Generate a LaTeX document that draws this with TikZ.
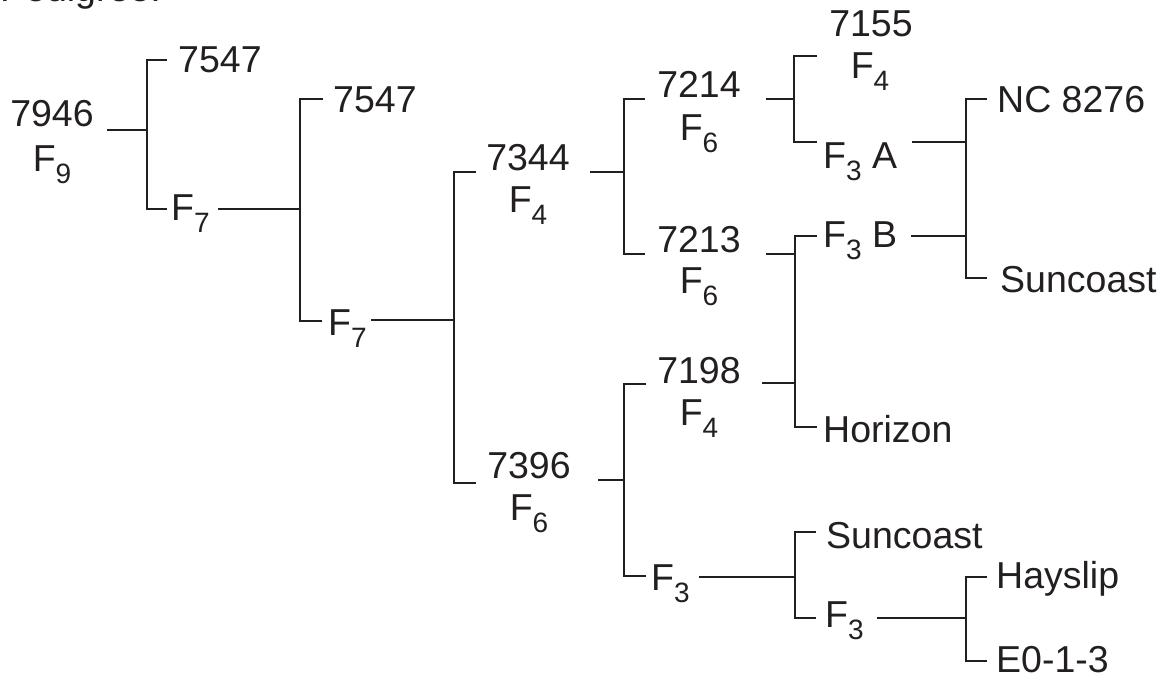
\documentclass[tikz,border=0pt]{standalone}
\usepackage{fontspec}
\setmainfont{Liberation Sans}
\definecolor{ink}{HTML}{231F20}
\newcommand\Fsub[1]{F\raisebox{-12pt}{\fontsize{28}{28}\selectfont #1}}
\begin{document}
\begin{tikzpicture}[x=1pt,y=-1pt,
  txt/.style={inner sep=0pt, anchor=base west, font=\fontsize{37.5}{40}\selectfont, text=ink},
  ctxt/.style={txt, anchor=base},
  link/.style={draw=ink, line width=2.4pt}]
\useasboundingbox (0,0) rectangle (1165,677);
% texts
\node[txt] (ped) at (0,2) {Pedigree:};
\node[ctxt] (n7946) at (52,126) {7946};
\node[ctxt] (f7946) at (52,171) {\Fsub{9}};
\node[txt] (n7547a) at (178,73) {7547};
\node[txt] (f7a) at (171,220) {\Fsub{7}};
\node[txt] (n7547b) at (333,112) {7547};
\node[txt] (f7b) at (328,335) {\Fsub{7}};
\node[ctxt] (n7344) at (528,170) {7344};
\node[ctxt] (f7344) at (528,212) {\Fsub{4}};
\node[ctxt] (n7396) at (529,478) {7396};
\node[ctxt] (f7396) at (529,520) {\Fsub{6}};
\node[ctxt] (n7214) at (699,98) {7214};
\node[ctxt] (f7214) at (699,140) {\Fsub{6}};
\node[ctxt] (n7213) at (699,252) {7213};
\node[ctxt] (f7213) at (699,293) {\Fsub{6}};
\node[ctxt] (n7198) at (699,383) {7198};
\node[ctxt] (f7198) at (699,425) {\Fsub{4}};
\node[txt] (f3c) at (651,590) {\Fsub{3}};
\node[ctxt] (n7155) at (871,37) {7155};
\node[ctxt] (f7155) at (870,79) {\Fsub{4}};
\node[txt] (f3a) at (823,168) {\Fsub{3} A};
\node[txt] (f3b) at (823,247) {\Fsub{3} B};
\node[txt] (hor) at (823,442) {Horizon};
\node[txt] (sunb) at (826,548) {Suncoast};
\node[txt] (f3d) at (825,627) {\Fsub{3}};
\node[txt] (nc) at (997,112) {NC 8276};
\node[txt] (suna) at (1000,292) {Suncoast};
\node[txt] (hay) at (996,588) {Hayslip};
\node[txt] (e013) at (996,672) {E0-1-3};
% connector points
\coordinate (a1) at (107,130); \coordinate (j1) at (147,130);
\coordinate (t1a) at (167,60); \coordinate (t1b) at (167,209);
\coordinate (a2) at (218,209); \coordinate (j2) at (300,209);
\coordinate (t2a) at (323,99); \coordinate (t2b) at (322,321);
\coordinate (a3) at (371,320); \coordinate (j3) at (454,320);
\coordinate (t3a) at (476,172); \coordinate (t3b) at (476,483);
\coordinate (a4) at (590,172); \coordinate (j4) at (624,172);
\coordinate (t4a) at (645,99); \coordinate (t4b) at (645,254);
\coordinate (a5) at (598,480); \coordinate (j5) at (624,480);
\coordinate (t5a) at (646,384); \coordinate (t5b) at (646,576);
\coordinate (a6) at (766,99); \coordinate (j6) at (794,99);
\coordinate (t6a) at (817,56); \coordinate (t6b) at (817,142);
\coordinate (a7a) at (766,254); \coordinate (j7a) at (795,254);
\coordinate (a7b) at (762,383); \coordinate (j7b) at (795,383);
\coordinate (t7a) at (817,236); \coordinate (t7b) at (817,427);
\coordinate (a8a) at (912,142); \coordinate (j8a) at (966,142);
\coordinate (a8b) at (911,236); \coordinate (j8b) at (966,236);
\coordinate (t8a) at (987,99); \coordinate (t8b) at (987,278);
\coordinate (a9) at (699,577); \coordinate (j9) at (795,577);
\coordinate (t9a) at (816,532); \coordinate (t9b) at (816,618);
\coordinate (a10) at (877,618); \coordinate (j10) at (966,618);
\coordinate (t10a) at (987,577); \coordinate (t10b) at (987,661);
% connectors
\draw[link] (a1) -- (j1); \draw[link] (t1a) -| (j1) |- (t1b);
\draw[link] (a2) -- (j2); \draw[link] (t2a) -| (j2) |- (t2b);
\draw[link] (a3) -- (j3); \draw[link] (t3a) -| (j3) |- (t3b);
\draw[link] (a4) -- (j4); \draw[link] (t4a) -| (j4) |- (t4b);
\draw[link] (a5) -- (j5); \draw[link] (t5a) -| (j5) |- (t5b);
\draw[link] (a6) -- (j6); \draw[link] (t6a) -| (j6) |- (t6b);
\draw[link] (a7a) -- (j7a); \draw[link] (a7b) -- (j7b);
\draw[link] (t7a) -| (j7a) -- (j7b) |- (t7b);
\draw[link] (a8a) -- (j8a); \draw[link] (a8b) -- (j8b);
\draw[link] (t8a) -| (j8a) -- (j8b) |- (t8b);
\draw[link] (a9) -- (j9); \draw[link] (t9a) -| (j9) |- (t9b);
\draw[link] (a10) -- (j10); \draw[link] (t10a) -| (j10) |- (t10b);
\end{tikzpicture}
\end{document}
